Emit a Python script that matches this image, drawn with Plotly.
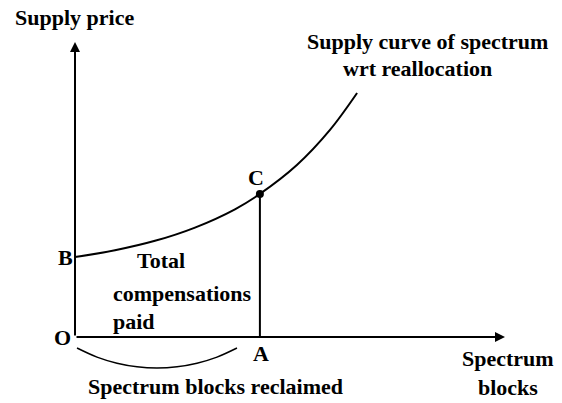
import plotly.graph_objects as go

# Supply curve, conceptual units
curve_x = [0.0, 0.93, 1.86, 2.79, 3.72, 4.30, 5.16, 5.93, 6.56]
curve_y = [2.71, 2.94, 3.26, 3.71, 4.33, 4.85, 5.83, 7.02, 8.27]

# Point C / A
point_c_x = [4.30]
point_c_y = [4.85]

# Brace-like arc under the x-axis (spectrum blocks reclaimed)
arc_x = [0.047, 0.512, 0.977, 1.442, 1.907, 2.372, 2.837, 3.302, 3.767]
arc_y = [-0.373, -0.681, -0.888, -1.010, -1.051, -1.010, -0.888, -0.681, -0.373]

axis_len_x = 10.0
axis_len_y = 10.0

FONT = "Liberation Serif"
FS = 22
black = "#000000"

fig = go.Figure()

fig.add_trace(go.Scatter(x=curve_x, y=curve_y, mode="lines", line=dict(color=black, width=2, shape="spline"), hoverinfo="skip"))
fig.add_trace(go.Scatter(x=[point_c_x[0], point_c_x[0]], y=[0, point_c_y[0]], mode="lines", line=dict(color=black, width=2), hoverinfo="skip"))
fig.add_trace(go.Scatter(x=point_c_x, y=point_c_y, mode="markers", marker=dict(color=black, size=8), hoverinfo="skip"))
fig.add_trace(go.Scatter(x=arc_x, y=arc_y, mode="lines", line=dict(color=black, width=1.5, shape="spline"), hoverinfo="skip"))

# axes with arrows
fig.add_annotation(x=axis_len_x, y=0, ax=0, ay=0, xref="x", yref="y", axref="x", ayref="y",
                   showarrow=True, arrowhead=2, arrowsize=1, arrowwidth=2, arrowcolor=black, text="", standoff=0)
fig.add_annotation(x=0, y=axis_len_y, ax=0, ay=0, xref="x", yref="y", axref="x", ayref="y",
                   showarrow=True, arrowhead=2, arrowsize=1, arrowwidth=2, arrowcolor=black, text="", standoff=0)

def label(text, x, y, xref="paper", yref="paper", xanchor="center", xshift=0, yshift=0):
    fig.add_annotation(text=text, x=x, y=y, xref=xref, yref=yref, showarrow=False,
                       xanchor=xanchor, yanchor="middle", xshift=xshift, yshift=yshift,
                       font=dict(family=FONT, size=FS, color=black))

W, H = 562, 403
def px(xp, yp):
    return xp / W, 1 - yp / H

# point labels
label("<b>B</b>", 0, curve_y[0], "x", "y", xshift=-10)
label("<b>C</b>", point_c_x[0], point_c_y[0], "x", "y", xshift=-4, yshift=16)
label("<b>O</b>", 0, 0, "x", "y", xshift=-13)
label("<b>A</b>", point_c_x[0], 0, "x", "y", xshift=1, yshift=-16)

# free text
x0, y0 = px(75, 18); label("<b>Supply price</b>", x0, y0)
x0, y0 = px(427, 42); label("<b>Supply curve of spectrum</b>", x0, y0)
x0, y0 = px(417, 69); label("<b>wrt reallocation</b>", x0, y0)
x0, y0 = px(161, 260); label("<b>Total</b>", x0, y0)
x0, y0 = px(111, 293); label("<b>compensations</b>", x0, y0, xanchor="left")
x0, y0 = px(111, 321); label("<b>paid</b>", x0, y0, xanchor="left")
x0, y0 = px(215, 386); label("<b>Spectrum blocks reclaimed</b>", x0, y0)
x0, y0 = px(508, 358); label("<b>Spectrum</b>", x0, y0)
x0, y0 = px(508, 387); label("<b>blocks</b>", x0, y0)

fig.update_layout(
    width=W, height=H, margin=dict(l=0, r=0, t=0, b=0),
    paper_bgcolor="white", plot_bgcolor="white", showlegend=False,
    xaxis=dict(visible=False, range=[-75 / 43, (562 - 75) / 43], fixedrange=True),
    yaxis=dict(visible=False, range=[(337 - 403) / 29.5, 337 / 29.5], fixedrange=True),
)

fig.write_html("out.html", config={"displayModeBar": False},
               post_script="document.body.style.margin='0px';document.body.style.overflow='hidden';")
